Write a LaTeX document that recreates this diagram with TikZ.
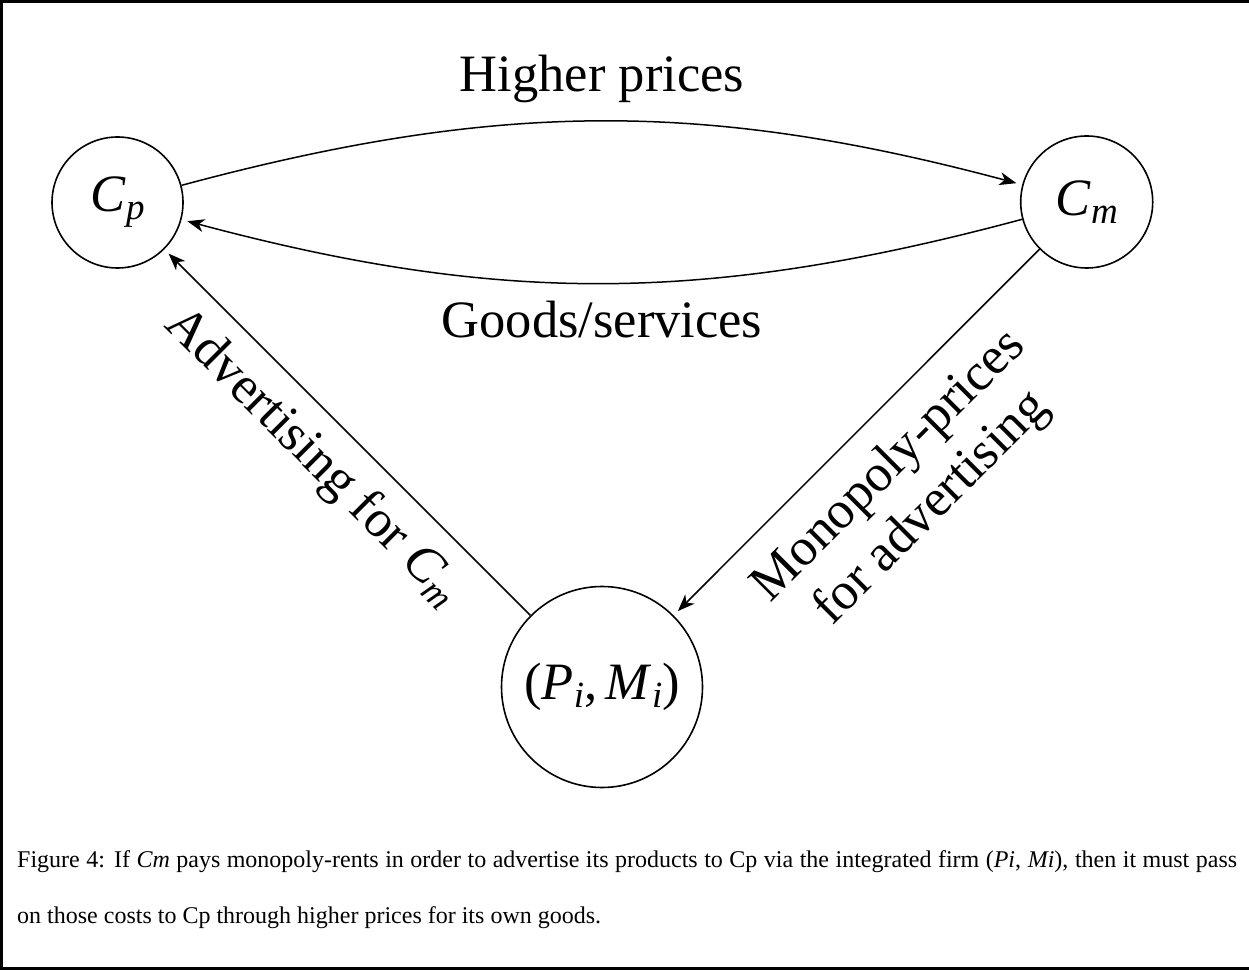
\documentclass[tikz,border=0pt]{standalone}
\usepackage{fontspec}
\setmainfont{Liberation Serif}
\usetikzlibrary{arrows.meta}
\newcommand\MyBig{\fontsize{52.5}{60}\selectfont}
\newcommand\MyCap{\fontsize{24}{28}\selectfont}
\newcommand\MySub[2]{\textit{#1}\raisebox{-8pt}{\fontsize{37}{40}\selectfont\itshape #2}}
\begin{document}
\begin{tikzpicture}[x=1pt,y=1pt,
  state/.style={draw, circle, line width=1.6pt, inner sep=0pt, font=\MyBig},
  arr/.style={line width=1.5pt, -{Stealth[length=17pt,width=13pt,inset=5pt]}, shorten >=6pt},
  lbl/.style={font=\MyBig, inner sep=0pt},
  captext/.style={font=\MyCap, inner sep=0pt, anchor=base west}]
\useasboundingbox (0,0) rectangle (1249,970);
\draw[line width=3pt] (1260,1.5) -- (1.5,1.5) -- (1.5,968.5) -- (1260,968.5);
\node[state, minimum size=131pt] (Cp) at (117.5,767.5) {\MySub{C}{p}};
\node[state, minimum size=132pt] (Cm) at (1086.7,768) {\MySub{C}{m}};
\node[state, minimum size=201pt] (Pi) at (602,283) {(\MySub{P}{i},\,\MySub{M}{i})};
\draw[arr] (Cp.15) to[bend left=15] (Cm.165);
\draw[arr] (Cm.195) to[bend left=15] (Cp.-15);
\draw[arr] (Pi) -- (Cp);
\draw[arr] (Cm) -- (Pi);
\node[lbl, anchor=base] (hp) at (602,878) {Higher prices};
\node[lbl, anchor=base] (gs) at (602,632) {Goods/services};
\node[lbl, rotate=-45] (adv) at (313,512.4) {Advertising for \MySub{C}{m}};
\node[lbl, rotate=45, align=center] (mon) at (911,482) {Monopoly-prices\\for advertising};
\node[captext] (cap1) at (17,103) {\makebox[1220pt][s]{Figure 4: If \textit{Cm} pays monopoly-rents in order to advertise its products to Cp via the integrated firm (\textit{Pi}, \textit{Mi}), then it must pass}};
\node[captext] (cap2) at (17,47) {on those costs to Cp through higher prices for its own goods.};
\end{tikzpicture}
\end{document}
